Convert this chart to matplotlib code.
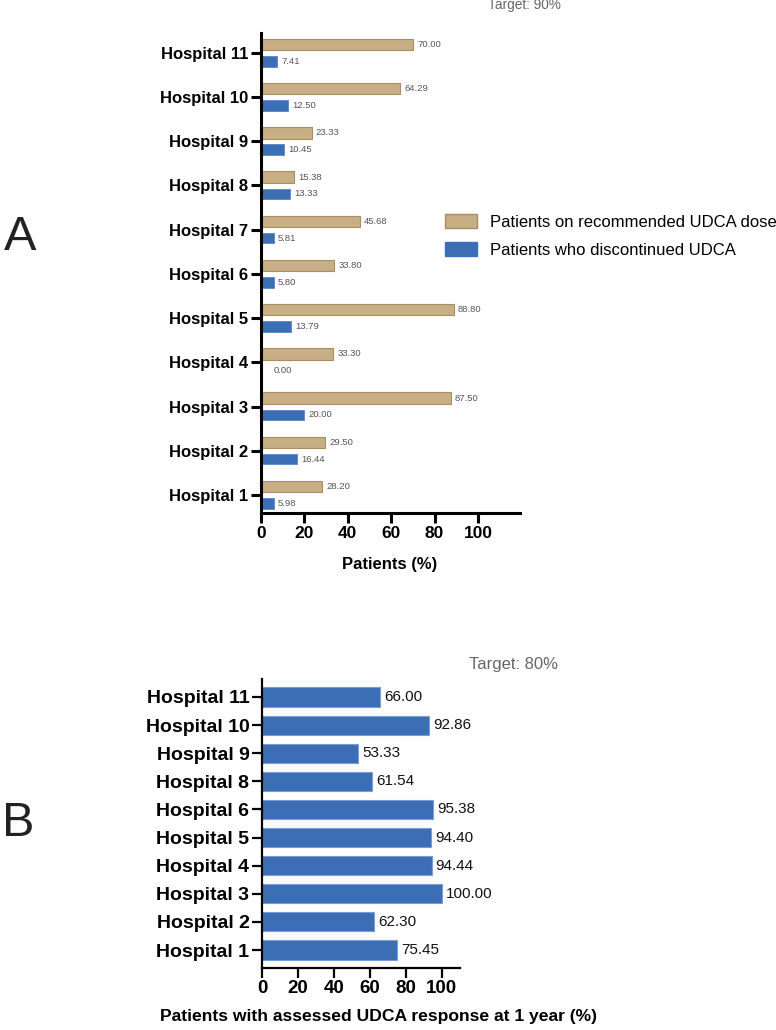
import matplotlib
matplotlib.use("Agg")
import matplotlib.pyplot as plt
from matplotlib.patches import Patch

plt.rcParams['font.family'] = ['Liberation Sans', 'DejaVu Sans']

# panel A data (Hospital 1 .. Hospital 11)
hosp_a = ["Hospital %d" % i for i in range(1, 12)]
dose_rec = [28.20, 29.50, 87.50, 33.30, 88.80, 33.80, 45.68, 15.38, 23.33, 64.29, 70.00]
discont = [5.98, 16.44, 20.00, 0.00, 13.79, 5.80, 5.81, 13.33, 10.45, 12.50, 7.41]

# panel B data (no Hospital 7)
hosp_b = ["Hospital 1", "Hospital 2", "Hospital 3", "Hospital 4", "Hospital 5",
          "Hospital 6", "Hospital 8", "Hospital 9", "Hospital 10", "Hospital 11"]
response = [75.45, 62.30, 100.00, 94.44, 94.40, 95.38, 61.54, 53.33, 92.86, 66.00]

xticks = [0, 20, 40, 60, 80, 100]

tan = "#C7AE84"
tan_edge = "#A88E62"
blue = "#3C6EB6"

fig = plt.figure(figsize=(7.76, 10.30), dpi=100)

# ---- panel A ----
axA = fig.add_axes([0.3363, 0.5019, 0.3338, 0.4661])
ya = list(range(1, len(hosp_a) + 1))
axA.barh([y + 0.19 for y in ya], dose_rec, height=0.26, color=tan,
         edgecolor=tan_edge, linewidth=0.8)
axA.barh([y - 0.19 for y in ya], discont, height=0.24, color=blue,
         edgecolor="#5a86c6", linewidth=0.6)
for y, v in zip(ya, dose_rec):
    axA.annotate("%.2f" % v, (v, y + 0.19), xytext=(3, 0), textcoords="offset points",
                 va="center", ha="left", fontsize=6.8, color="#555555")
for y, v in zip(ya, discont):
    off = 9 if v == 0 else 3
    axA.annotate("%.2f" % v, (v, y - 0.19), xytext=(off, 0), textcoords="offset points",
                 va="center", ha="left", fontsize=6.8, color="#555555")
axA.set_xlim(0, 119.4)
axA.set_ylim(0.59, 11.45)
axA.set_xticks(xticks)
axA.set_yticks(ya)
axA.set_yticklabels(hosp_a, fontsize=12, fontweight="bold")
axA.set_xticklabels([str(t) for t in xticks], fontsize=12.5, fontweight="bold")
for s in ["top", "right"]:
    axA.spines[s].set_visible(False)
for s in ["left", "bottom"]:
    axA.spines[s].set_linewidth(2.2)
axA.tick_params(axis="both", length=7, width=2.2, pad=2)
fig.text(390 / 776, 1 - 565 / 1030, "Patients (%)", ha="center", va="center",
         fontsize=12, fontweight="bold")

fig.legend(handles=[Patch(facecolor=tan, edgecolor=tan_edge, label="Patients on recommended UDCA dose"),
                    Patch(facecolor=blue, edgecolor=blue, label="Patients who discontinued UDCA")],
           loc="center left", bbox_to_anchor=(445 / 776, 1 - 236 / 1030), frameon=False,
           fontsize=12, handlelength=1.9, handleheight=0.9, handletextpad=0.8,
           labelspacing=0.75, borderaxespad=0, borderpad=0)

fig.text(488 / 776, 1 - 5 / 1030, "Target: 90%", ha="left", va="center",
         fontsize=9.8, color="#666666")
fig.text(20 / 776, 1 - 237 / 1030, "A", ha="center", va="center", fontsize=35, color="#222222")

# ---- panel B ----
axB = fig.add_axes([0.3376, 0.0602, 0.2552, 0.2806])
yb = list(range(len(hosp_b)))
axB.barh(yb, response, height=0.68, color=blue, edgecolor="#7a9ed4", linewidth=0.8)
for y, v in zip(yb, response):
    axB.annotate("%.2f" % v, (v, y), xytext=(3, 0), textcoords="offset points",
                 va="center", ha="left", fontsize=11, color="#111111")
axB.set_xlim(0, 110.3)
axB.set_ylim(-0.64, 9.64)
axB.set_xticks(xticks)
axB.set_yticks(yb)
axB.set_yticklabels(hosp_b, fontsize=14, fontweight="bold")
axB.set_xticklabels([str(t) for t in xticks], fontsize=13.5, fontweight="bold")
for s in ["top", "right"]:
    axB.spines[s].set_visible(False)
for s in ["left", "bottom"]:
    axB.spines[s].set_linewidth(1.6)
axB.tick_params(axis="both", length=7, width=1.6, pad=2)
fig.text(378 / 776, 1 - 1017 / 1030, "Patients with assessed UDCA response at 1 year (%)",
         ha="center", va="center", fontsize=12.6, fontweight="bold")
fig.text(469 / 776, 1 - 665 / 1030, "Target: 80%", ha="left", va="center",
         fontsize=12, color="#666666")
fig.text(18 / 776, 1 - 823 / 1030, "B", ha="center", va="center", fontsize=35, color="#222222")

fig.savefig("out.png", dpi=100)
